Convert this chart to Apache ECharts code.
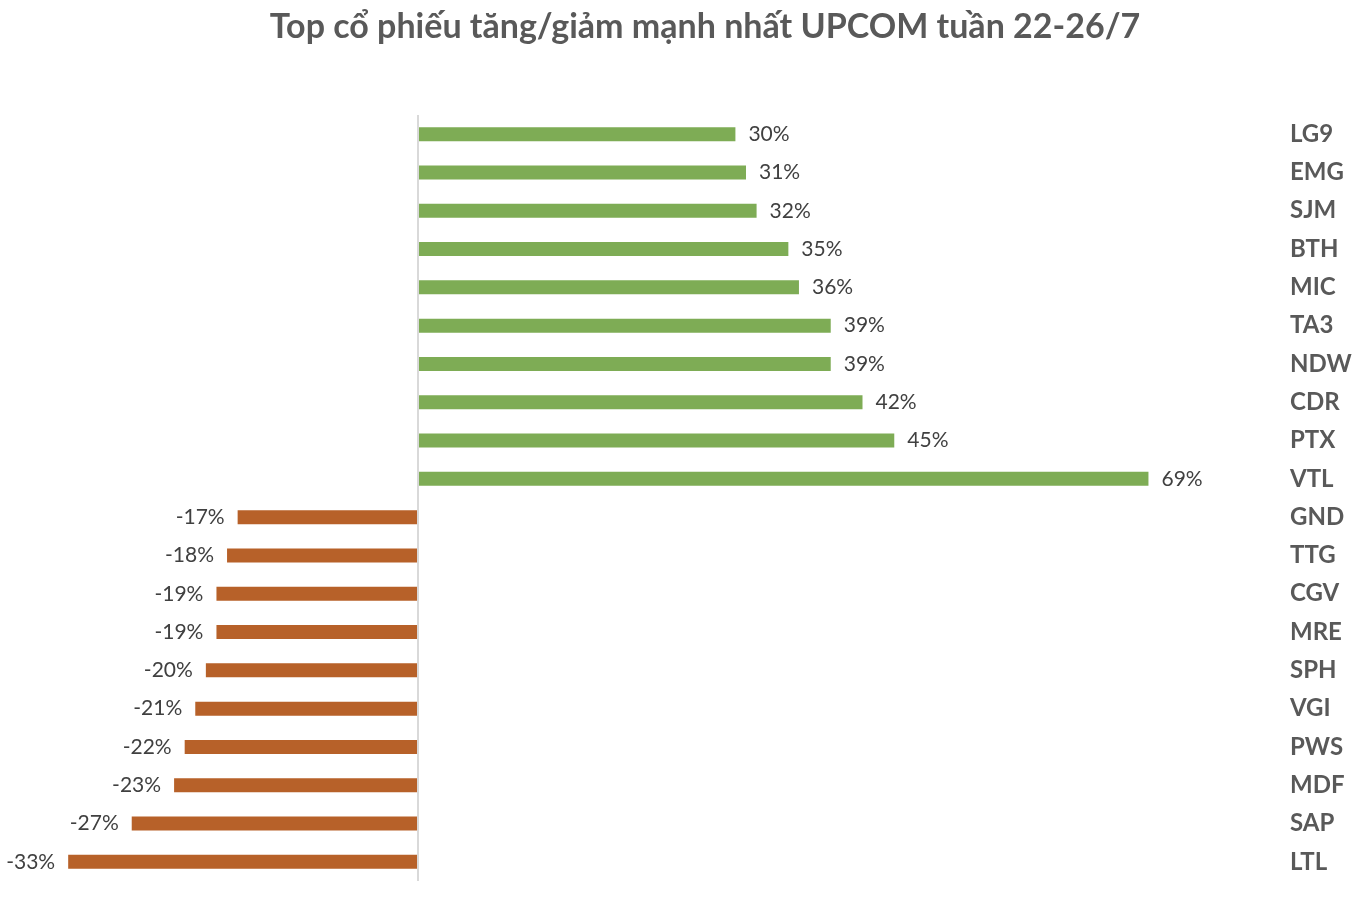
<!DOCTYPE html>
<html><head><meta charset="utf-8">
<script src="https://cdn.jsdelivr.net/npm/echarts@6/dist/echarts.min.js"></script>
<style>html,body{margin:0;padding:0;background:#fff}#c{width:1362px;height:900px}</style>
</head><body><div id="c"></div>
<script>
const titleText = 'Top cổ phiếu tăng/giảm mạnh nhất UPCOM tuần 22-26/7';
const categories = ['LG9','EMG','SJM','BTH','MIC','TA3','NDW','CDR','PTX','VTL','GND','TTG','CGV','MRE','SPH','VGI','PWS','MDF','SAP','LTL'];
const gainers = [30,31,32,35,36,39,39,42,45,69,'-','-','-','-','-','-','-','-','-','-'];
const losers = ['-','-','-','-','-','-','-','-','-','-',-17,-18,-19,-19,-20,-21,-22,-23,-27,-33];

const chart = echarts.init(document.getElementById('c'));
const font = 'Lato, "Open Sans", sans-serif';
chart.setOption({
  backgroundColor: '#fff',
  animation: false,
  title: {
    text: titleText, left: 700, top: 5, textAlign: 'center',
    textStyle: {fontFamily: font, fontWeight: 'bold', fontSize: 34, color: '#595959'}
  },
  grid: {left: 47, top: 115, width: 1165, height: 766},
  xAxis: {
    type: 'value', min: -35, max: 75, show: false
  },
  yAxis: {
    type: 'category', data: categories, inverse: true, position: 'right',
    axisLine: {show: false}, axisTick: {show: false}, splitLine: {show: false},
    axisLabel: {margin: 78, align: 'left', fontFamily: font, fontWeight: 'bold', fontSize: 24, color: '#595959'}
  },
  series: [
    {
      type: 'bar', stack: 'a', data: gainers, barWidth: 14,
      itemStyle: {color: '#7eac55'},
      label: {show: true, position: 'right', distance: 13, formatter: '{c}%', fontFamily: font, fontSize: 21, color: '#404040'},
      markLine: {
        silent: true, symbol: 'none', label: {show: false},
        lineStyle: {color: '#d9d9d9', width: 2, type: 'solid'},
        data: [{xAxis: 0}]
      }
    },
    {
      type: 'bar', stack: 'a', data: losers, barWidth: 14,
      itemStyle: {color: '#b76129'},
      label: {show: true, position: 'left', distance: 13, formatter: '{c}%', fontFamily: font, fontSize: 21, color: '#404040'}
    }
  ]
});
</script></body></html>
